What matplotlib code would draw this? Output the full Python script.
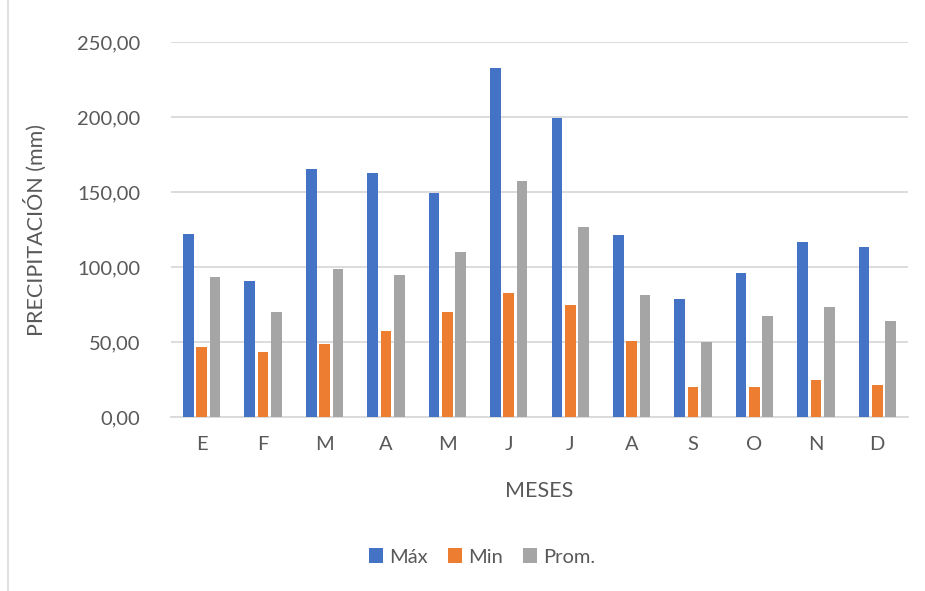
import numpy as np
import matplotlib.pyplot as plt
from matplotlib.ticker import FuncFormatter

plt.rcParams['font.family'] = ['Lato', 'DejaVu Sans']

meses = ["E", "F", "M", "A", "M", "J", "J", "A", "S", "O", "N", "D"]
maximo = [122.2, 90.7, 165.1, 162.7, 149.3, 232.4, 199.6, 121.6, 78.9, 96.2, 116.4, 113.1]
minimo = [46.4, 43.1, 48.7, 57.3, 70.2, 82.7, 74.4, 50.7, 19.8, 19.8, 24.4, 21.1]
promedio = [93.6, 70.0, 98.7, 94.4, 110.0, 157.6, 126.7, 81.3, 50.0, 67.3, 73.3, 64.0]

fig = plt.figure(figsize=(9.25, 5.91), dpi=100)
ax = fig.add_axes([171 / 925, 1 - 417 / 591, (908 - 171) / 925, (417 - 42) / 591])

x = np.arange(len(meses))
w = 0.174
paso = 0.217
ax.bar(x - paso, maximo, w, color="#4472C4", label="Máx", zorder=3)
ax.bar(x, minimo, w, color="#ED7D31", label="Min", zorder=3)
ax.bar(x + paso, promedio, w, color="#A5A5A5", label="Prom.", zorder=3)

ax.set_xlim(-0.5, len(meses) - 0.5)
ax.set_ylim(0, 250)
ax.set_yticks(np.arange(0, 251, 50))
ax.yaxis.set_major_formatter(FuncFormatter(lambda v, p: f"{v:.2f}".replace(".", ",")))
ax.set_xticks(x)
ax.set_xticklabels(meses)

ax.grid(axis="y", color="#D9D9D9", linewidth=1.3, zorder=0)
for s in ["top", "right", "left"]:
    ax.spines[s].set_visible(False)
ax.spines["bottom"].set_color("#D9D9D9")
ax.spines["bottom"].set_linewidth(1.3)
ax.tick_params(length=0, labelsize=14.5, colors="#595959")
ax.tick_params(axis="y", pad=22)
ax.tick_params(axis="x", pad=14)

ax.set_ylabel("PRECIPITACIÓN (mm)", fontsize=15.5, color="#595959", labelpad=22)
ax.set_xlabel("MESES", fontsize=15.5, color="#595959", labelpad=20)

fig.legend(loc="center", bbox_to_anchor=(482 / 925, 1 - 557 / 591), ncol=3,
           frameon=False, fontsize=14.5, labelcolor="#595959",
           handlelength=0.7, handleheight=0.7, handletextpad=0.3, columnspacing=1.0)

# borde izquierdo del recuadro del grafico
fig.add_artist(plt.Line2D([8 / 925, 8 / 925], [0, 1], color="#D9D9D9", linewidth=1.2))

fig.savefig("out.png", dpi=100)
